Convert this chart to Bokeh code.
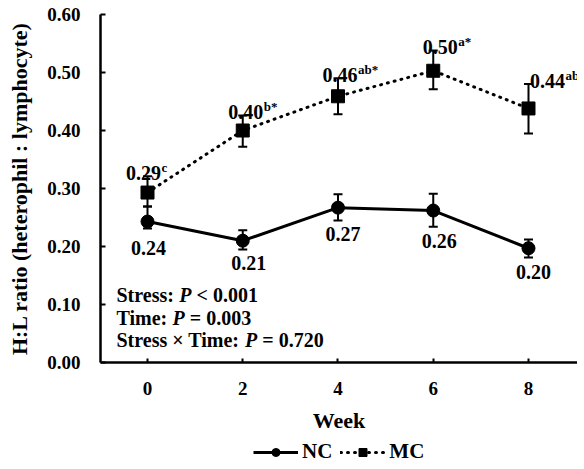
from bokeh.plotting import figure
from bokeh.layouts import column
from bokeh.models import (ColumnDataSource, Whisker, TeeHead, Legend, LegendItem,
                          Range1d, FixedTicker, PrintfTickFormatter, Label)
from bokeh.core.properties import value
from bokeh.embed import file_html
from bokeh.resources import INLINE

# ---- data ----
weeks = [0, 2, 4, 6, 8]
nc_mean = [0.243, 0.210, 0.267, 0.262, 0.197]
nc_lo = [0.231, 0.195, 0.245, 0.234, 0.181]
nc_hi = [0.269, 0.228, 0.290, 0.291, 0.212]
mc_mean = [0.293, 0.400, 0.459, 0.503, 0.438]
mc_lo = [0.269, 0.372, 0.428, 0.471, 0.395]
mc_hi = [0.321, 0.426, 0.490, 0.538, 0.480]
nc_labels = ["0.24", "0.21", "0.27", "0.26", "0.20"]
mc_labels = ["0.29", "0.40", "0.46", "0.50", "0.44"]
mc_sup = ["c", "b*", "ab*", "a*", "ab*"]
series_names = ["NC", "MC"]
y_ticks = [0.0, 0.1, 0.2, 0.3, 0.4, 0.5, 0.6]
x_ticks = [0, 2, 4, 6, 8]

# label layout offsets (px)
nc_dx = [1, 6, 5, 6, 5]
nc_dy = [12, 7, 7, 7, 7]
mc_dx = [-4, 3, 2, 7, 19]

FONT = "Liberation Serif"

nc_src = ColumnDataSource(dict(x=weeks, y=nc_mean, lo=nc_lo, hi=nc_hi, lbl=nc_labels,
                               dx=nc_dx, dy=nc_dy))
mc_src = ColumnDataSource(dict(x=weeks, y=mc_mean, lo=mc_lo, hi=mc_hi, lbl=mc_labels, sup=mc_sup,
                               dx=mc_dx, sdx=[d + 18 for d in mc_dx]))

p = figure(frame_width=477, frame_height=348, output_backend="svg", toolbar_location=None,
           x_range=Range1d(-0.987, 9.029), y_range=Range1d(0, 0.6),
           min_border_left=100, min_border_right=0, min_border_top=14, min_border_bottom=72)
p.grid.visible = False
p.outline_line_color = None
p.background_fill_color = "white"

for ax in (p.xaxis[0], p.yaxis[0]):
    ax.axis_line_width = 2.5
    ax.axis_line_color = "black"
    ax.major_tick_line_width = 2
    ax.major_tick_line_color = "black"
    ax.major_tick_out = 0
    ax.minor_tick_line_color = None
    ax.major_label_text_font = FONT
    ax.major_label_text_font_style = "bold"
    ax.major_label_text_font_size = "19px"
    ax.major_label_text_color = "black"
    ax.axis_label_text_font = FONT
    ax.axis_label_text_font_style = "bold"
    ax.axis_label_text_color = "black"

p.yaxis.ticker = FixedTicker(ticks=y_ticks)
p.yaxis.formatter = PrintfTickFormatter(format="%.2f")
p.yaxis.major_tick_in = 5
p.yaxis.major_label_standoff = 20
p.yaxis.axis_label = "H:L ratio (heterophil : lymphocyte)"
p.yaxis.axis_label_text_font_size = "22px"
p.yaxis.axis_label_standoff = 12

p.xaxis.ticker = FixedTicker(ticks=x_ticks)
p.xaxis.major_tick_in = 4
p.xaxis.major_label_standoff = 19
p.xaxis.axis_label = "Week"
p.xaxis.axis_label_text_font_size = "22px"
p.xaxis.axis_label_standoff = 10

# error bars
for src in (nc_src, mc_src):
    w = Whisker(base="x", upper="hi", lower="lo", source=src, dimension="height",
                line_width=2, line_color="black",
                upper_head=TeeHead(size=9, line_width=2, line_color="black"),
                lower_head=TeeHead(size=9, line_width=2, line_color="black"))
    p.add_layout(w)

NC_LINE = dict(line_width=3, line_color="black")
MC_LINE = dict(line_width=3, line_color="black", line_dash="1 6", line_cap="round")
MARK = dict(size=13, fill_color="black", line_color="black")

p.line("x", "y", source=nc_src, **NC_LINE)
p.scatter("x", "y", source=nc_src, marker="circle", **MARK)
p.line("x", "y", source=mc_src, **MC_LINE)
p.scatter("x", "y", source=mc_src, marker="square", **MARK)

# value labels
p.text("x", "lo", text="lbl", source=nc_src, x_offset="dx", y_offset="dy",
       text_align="center", text_baseline="top", text_font=value(FONT),
       text_font_style="bold", text_font_size="20px", text_color="black")
p.text("x", "hi", text="lbl", source=mc_src, x_offset="dx", y_offset=-3,
       text_align="center", text_baseline="alphabetic", text_font=value(FONT),
       text_font_style="bold", text_font_size="20px", text_color="black")
p.text("x", "hi", text="sup", source=mc_src, x_offset="sdx", y_offset=-9,
       text_align="left", text_baseline="alphabetic", text_font=value(FONT),
       text_font_style="bold", text_font_size="13px", text_color="black")

# statistics text (prefix, P, suffix), widths in px at 20px bold serif
stats = [
    ("Stress:", "< 0.001", 0.117, 62.8),
    ("Time:", "= 0.003", 0.076, 56.1),
    ("Stress \u00d7 Time:", "= 0.720", 0.038, 128.6),
]
x0 = -0.987
for pre, post, yy, w in stats:
    common = dict(x=x0, y=yy, text_font=FONT, text_font_size="20px",
                  text_color="black", text_baseline="middle")
    p.add_layout(Label(text=pre, x_offset=16, text_font_style="bold", **common))
    p.add_layout(Label(text="P", x_offset=16 + w, text_font_style="bold italic", **common))
    p.add_layout(Label(text=post, x_offset=16 + w + 17.2, text_font_style="bold", **common))

# legend strip (separate small figure below the chart, no axes; its ranges
# are set away from the data so only the legend itself shows)
lg = figure(width=577, height=30, output_backend="svg", toolbar_location=None,
            x_axis_type=None, y_axis_type=None,
            x_range=Range1d(100, 101), y_range=Range1d(100, 101),
            min_border_left=0, min_border_right=0, min_border_top=0, min_border_bottom=0)
lg.grid.visible = False
lg.outline_line_color = None
l1 = lg.line("x", "y", source=nc_src, **NC_LINE)
m1 = lg.scatter("x", "y", source=nc_src, marker="circle", **MARK)
l2 = lg.line("x", "y", source=mc_src, **MC_LINE)
m2 = lg.scatter("x", "y", source=mc_src, marker="square", **MARK)
legend = Legend(items=[LegendItem(label=series_names[0], renderers=[l1, m1]),
                       LegendItem(label=series_names[1], renderers=[l2, m2])],
                orientation="horizontal", location=(153, 1),
                label_text_font=FONT, label_text_font_style="bold",
                label_text_font_size="21px", label_text_color="black",
                glyph_width=45, glyph_height=20, label_height=20, label_standoff=4,
                spacing=8, padding=0, margin=0,
                border_line_color=None, background_fill_alpha=0)
lg.add_layout(legend)

open("out.html", "w").write(file_html(column(p, lg, spacing=0), INLINE))
